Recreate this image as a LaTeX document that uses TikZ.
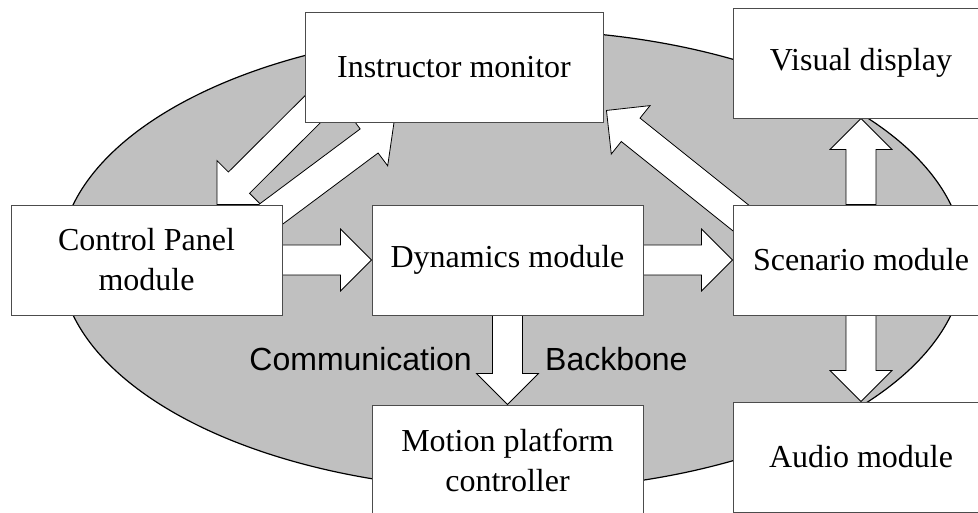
\documentclass[tikz,border=0pt]{standalone}
\usepackage{fontspec}
\setmainfont{Liberation Serif}
\setsansfont{Liberation Sans}
\usetikzlibrary{calc}
\definecolor{ovalgray}{HTML}{C0C0C0}
\pgfdeclarelayer{oval}
\pgfdeclarelayer{links}
\pgfsetlayers{oval,links,main}
\tikzset{module/.style={draw=black!70, line width=0.9pt, fill=white, inner sep=0pt,
    minimum height=110pt, minimum width=271pt, align=center,
    font=\fontsize{32}{40}\selectfont}}
\tikzset{side-module/.style={module, minimum width=256pt}}
\tikzset{bus-text/.style={inner sep=0pt, font=\sffamily\fontsize{32}{38}\selectfont}}
\tikzset{fat-arrow/.style={draw=black, line width=0.8pt, fill=white, line join=miter}}
\newcommand{\fatarrow}[2]{%
  \coordinate (fa-base) at ($(#2)!31pt!(#1)$);
  \draw[fat-arrow] ($(#1)!15pt!90:(#2)$) -- ($(fa-base)!15pt!90:(#2)$)
    -- ($(fa-base)!31pt!90:(#2)$) -- (#2) -- ($(fa-base)!31pt!-90:(#2)$)
    -- ($(fa-base)!15pt!-90:(#2)$) -- ($(#1)!15pt!-90:(#2)$) -- cycle;}

\begin{document}
\begin{tikzpicture}[x=1pt, y=1pt]
      \useasboundingbox (0,0) rectangle (978,512);

      \node[module, minimum width=298pt] (instr) at (454, 445) {Instructor monitor};
      \node[side-module] (visual) at (861, 449) {Visual display};
      \node[module] (panel) at (146.5, 252) {Control Panel\\module};
      \node[module] (dynamics) at (507.5, 252) {Dynamics module};
      \node[side-module] (scenario) at (861, 252) {Scenario module};
      \node[module] (motion) at (507.5, 52) {Motion platform\\controller};
      \node[side-module] (audio) at (861, 55) {Audio module};

      \node[bus-text, anchor=base east] (comm) at (472, 141) {Communication};
      \node[bus-text, anchor=base west] (backbone) at (545, 141) {Backbone};

      % ends of the slanted links
      \coordinate (instr-out) at ([xshift=25pt, yshift=30pt]instr.south west);
      \coordinate (panel-in) at ([xshift=70.5pt]panel.north);
      \coordinate (panel-out) at ([xshift=-16pt, yshift=-13pt]panel.north east);
      \coordinate (instr-in) at ([xshift=-60pt]instr.south);
      \coordinate (scenario-out) at ([xshift=29pt, yshift=-30pt]scenario.north west);
      \coordinate (instr-back) at ([xshift=3pt, yshift=12pt]instr.south east);

      \begin{pgfonlayer}{oval}
        \draw[fill=ovalgray, line width=1.2pt] (512, 252) ellipse (452 and 230);
      \end{pgfonlayer}

      \begin{pgfonlayer}{links}
        \fatarrow{instr-out}{panel-in}
        \fatarrow{panel-out}{instr-in}
        \fatarrow{scenario-out}{instr-back}
        \fatarrow{panel.east}{dynamics.west}
        \fatarrow{dynamics.east}{scenario.west}
        \fatarrow{dynamics.south}{motion.north}
        \fatarrow{scenario.north}{visual.south}
        \fatarrow{scenario.south}{audio.north}
      \end{pgfonlayer}

    \end{tikzpicture}
\end{document}
